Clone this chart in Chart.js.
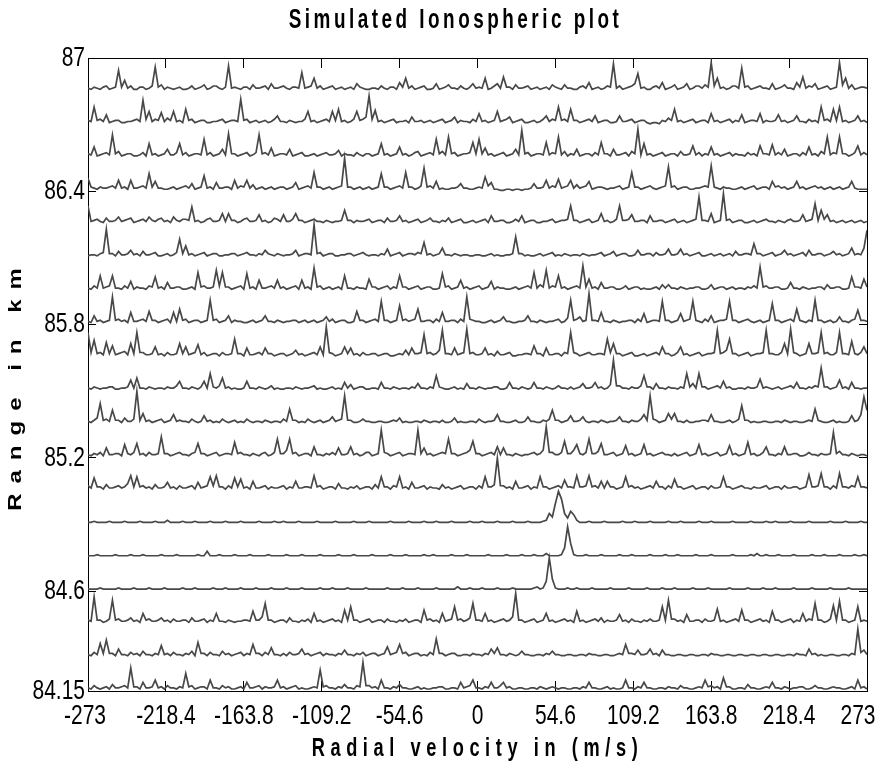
<!DOCTYPE html>
<html><head><meta charset="utf-8">
<script src="https://cdn.jsdelivr.net/npm/chart.js@4/dist/chart.umd.min.js"></script>
<style>html,body{margin:0;padding:0;background:#fff}canvas{display:block}</style>
</head><body>
<canvas id="c" width="879" height="767"></canvas>
<script>
const chartTitle = 'Simulated Ionospheric plot';
const xTitle = 'Radial velocity in (m/s)';
const yTitle = 'Range in km';
const xTicks = [-273, -218.4, -163.8, -109.2, -54.6, 0, 54.6, 109.2, 163.8, 218.4, 273];
const yTicks = [84.15, 84.6, 85.2, 85.8, 86.4, 87];
const vMin = -273, vMax = 273;
const yMin = 84.15, yMax = 87;
const ranges = [84.15, 84.30, 84.45, 84.60, 84.75, 84.90, 85.05, 85.20, 85.35, 85.50, 85.65, 85.80, 85.95, 86.10, 86.25, 86.40, 86.55, 86.70, 86.85];
const ampScale = 0.005;   // km per spectral unit
const floorOffset = 0.004;

// spectral amplitude per range gate (256 velocity bins each)
const g8685 = [
2,1,3,2,1,3,4,1,2,3,18,3,9,2,4,1, 1,3,3,1,2,4,21,3,5,1,3,2,1,2,3,1,
1,2,4,1,2,3,5,1,2,4,4,2,1,3,22,2, 3,2,1,3,3,1,5,2,2,3,4,1,6,2,2,3,
4,2,1,3,3,2,16,2,3,4,11,2,4,1,2,3, 4,1,2,3,1,2,3,1,6,3,2,1,1,2,2,1,
4,2,1,3,3,1,7,3,11,2,4,1,2,3,4,1, 1,2,6,1,2,3,5,2,2,1,4,2,1,3,6,2,
3,2,11,1,2,4,6,2,12,3,3,1,5,2,2,3, 4,1,2,3,1,2,3,1,5,3,2,1,5,2,2,1,
1,3,4,2,7,1,2,3,1,2,4,3,24,2,4,1, 2,3,4,6,15,2,3,1,1,3,4,2,7,1,2,3,
5,1,2,3,6,1,2,4,4,2,5,3,25,4,11,2, 3,1,2,4,4,2,20,3,4,1,2,3,4,2,2,1,
6,1,2,3,5,2,2,1,7,3,12,2,4,3,6,1, 2,3,4,1,2,3,25,5,11,2,5,1,2,3,3,2];
const g8670 = [
3,2,15,3,4,2,8,1,2,3,3,1,1,2,2,3, 4,2,21,4,11,2,4,3,10,2,5,3,11,2,3,1,
13,3,4,1,2,3,3,1,1,2,2,3,4,1,2,3, 3,2,22,3,4,1,2,3,1,2,3,1,2,4,7,2,
2,1,3,2,1,2,2,4,11,2,3,1,2,3,4,2, 11,3,13,2,3,1,2,4,11,3,4,6,25,4,12,2,
3,1,2,3,4,1,2,2,3,1,6,2,2,3,1,2, 3,1,2,3,4,1,2,3,6,1,3,2,2,1,4,2,
9,2,3,1,2,3,11,2,3,4,6,1,2,3,4,1, 1,2,3,1,2,4,7,2,4,3,15,3,4,2,13,3,
3,1,2,3,4,2,7,1,2,3,3,1,1,2,7,2, 2,3,4,1,2,3,3,1,0,1,1,0,3,2,5,3,
13,2,3,1,2,3,4,1,2,3,3,1,9,2,3,1, 2,3,4,1,3,2,8,1,2,3,3,2,9,1,3,2,
2,3,8,2,3,1,2,3,7,2,2,1,4,2,3,1, 15,3,4,2,13,3,15,2,3,1,2,3,7,2,3,1];
const g8655 = [
3,2,9,1,2,3,4,2,20,3,5,1,2,3,3,1, 1,2,4,1,12,2,3,1,2,3,7,2,2,4,12,2,
4,1,2,3,3,2,16,2,4,1,2,3,7,2,21,3, 3,1,2,3,4,1,2,4,20,3,4,2,8,1,2,3,
3,2,7,1,2,3,4,1,1,2,3,1,2,3,4,2, 2,3,6,1,3,2,2,1,4,2,1,3,3,1,2,3,
12,2,3,1,2,3,9,2,3,1,2,4,5,1,2,3, 4,2,16,3,5,2,18,3,4,1,2,3,3,4,13,3,
16,3,8,2,3,1,2,3,4,1,2,3,7,2,24,3, 4,1,2,3,3,2,13,2,4,3,18,2,5,1,3,2,
7,1,2,3,3,1,4,2,13,3,3,1,7,2,2,3, 4,1,5,3,25,2,12,2,3,1,2,3,4,1,2,3,
3,1,5,2,2,3,10,2,4,1,3,2,9,2,3,1, 2,3,4,1,3,2,2,1,4,2,3,1,10,3,3,2,
11,2,4,2,7,1,2,3,3,1,4,2,9,2,3,1, 5,3,18,2,4,3,18,3,3,1,2,4,10,2,4,2];
const g8640 = [
11,3,2,1,3,2,2,3,4,2,9,2,3,1,9,2, 2,3,4,2,15,3,8,2,2,1,1,2,3,1,2,3,
4,2,6,1,2,3,13,2,3,1,7,2,2,3,3,1, 9,2,4,3,9,2,5,1,2,3,1,2,3,1,2,3,
3,1,2,3,7,1,2,3,4,2,16,3,3,1,2,3, 1,2,3,4,29,3,3,1,2,3,1,2,3,1,2,3,
15,3,3,1,2,3,4,2,16,3,3,1,2,4,20,3, 4,2,8,1,2,1,1,2,2,3,6,2,2,1,1,2,
3,2,12,4,7,1,1,0,0,1,1,0,1,1,0,1, 1,2,6,2,2,3,9,2,4,3,10,2,3,4,9,2,
5,2,3,4,8,1,2,3,3,2,1,2,2,3,4,1, 2,3,16,3,3,1,2,3,4,2,1,2,3,4,21,3,
4,1,2,3,3,1,1,2,2,3,4,3,22,3,2,1, 3,2,2,1,1,2,3,1,2,3,4,1,2,3,3,1,
8,3,4,2,3,1,2,3,8,2,3,1,2,3,4,2, 3,1,2,3,1,2,3,1,2,3,8,2,1,1,1,1];
const g8625 = [
16,2,3,4,2,1,5,2,2,3,6,2,3,4,5,1, 2,3,4,2,6,3,2,4,5,2,3,1,6,3,2,4,
4,3,15,2,3,1,2,4,5,2,2,3,9,2,9,3, 3,1,2,4,5,2,2,3,8,2,3,1,2,5,4,2,
8,2,2,4,9,3,3,1,2,3,4,2,2,1,3,2, 1,2,2,3,12,3,3,1,3,2,2,3,4,1,2,3,
3,1,5,2,2,3,7,2,3,1,2,3,4,1,2,3, 5,2,2,1,3,2,5,1,2,3,4,1,1,2,3,1,
2,3,4,1,7,2,2,3,3,1,1,2,4,2,7,1, 2,3,3,1,1,2,2,3,4,1,2,3,3,4,16,3,
3,1,2,3,4,1,2,3,9,2,3,1,2,4,16,3, 3,4,8,2,2,3,3,1,7,2,2,3,3,1,2,3,
4,1,2,3,1,2,3,4,24,3,3,2,9,1,2,3, 27,3,4,1,2,3,3,1,1,2,3,1,2,3,4,2,
2,1,3,2,1,3,4,2,2,3,8,2,3,4,18,3, 12,4,8,2,3,1,2,3,1,2,3,1,2,3,1,2];
const g8610 = [
1,2,2,1,3,4,25,3,3,1,5,2,2,3,6,2, 3,1,5,2,2,3,4,1,1,2,3,1,2,4,16,3,
10,2,3,1,2,3,4,1,2,3,3,1,1,2,2,3, 3,1,2,3,4,2,2,1,3,2,6,3,2,1,3,2,
1,2,2,3,6,1,2,3,3,2,29,3,4,1,2,3, 3,1,1,2,2,3,3,1,2,3,4,2,1,2,2,1,
3,2,7,1,2,3,4,1,2,3,3,2,4,3,13,2, 3,1,2,3,8,2,2,1,3,2,1,2,2,1,1,2,
2,1,1,2,3,1,2,1,1,2,2,3,18,3,3,1, 2,1,1,2,3,1,2,3,4,1,2,1,3,2,1,2,
2,1,3,2,1,2,2,3,4,1,2,3,5,1,2,3, 3,1,1,2,6,2,2,3,3,1,4,2,2,3,7,2,
2,3,7,2,3,1,2,3,4,1,1,2,3,1,2,3, 1,2,3,1,5,2,2,3,3,2,12,3,3,1,2,3,
4,1,2,3,6,2,3,1,2,3,4,1,6,2,2,3, 3,1,2,3,5,2,3,1,2,3,8,2,3,2,8,24];
const g8595 = [
2,1,4,2,13,2,3,4,13,2,2,1,4,2,8,1, 3,2,2,1,4,3,12,2,3,1,7,2,2,3,3,1,
1,2,3,1,16,3,4,2,2,3,18,4,16,3,3,1, 2,3,4,1,15,2,3,1,9,2,2,3,4,2,9,2,
3,1,2,3,4,1,9,2,3,1,20,3,4,1,2,3, 1,2,3,1,13,2,2,1,3,2,2,1,10,3,3,1,
2,3,4,1,3,2,13,3,3,1,2,3,4,1,2,3, 3,1,1,2,15,3,4,1,2,3,9,2,3,1,2,3,
4,1,2,3,8,1,3,2,2,1,1,2,3,1,2,3, 4,2,16,2,5,3,18,2,4,3,13,2,3,1,2,3,
4,2,22,3,10,2,3,1,7,2,2,3,3,1,1,2, 4,1,2,3,3,1,2,1,1,2,3,1,5,2,5,2,
2,1,3,2,1,2,2,3,3,1,1,2,5,1,2,3, 3,1,2,3,1,2,2,1,3,2,4,2,21,3,4,2,
2,3,3,1,1,2,7,2,2,1,3,2,1,2,2,3, 3,1,5,2,2,3,3,1,1,2,12,3,3,2,10,3];
const g8580 = [
2,1,7,2,3,1,2,3,24,3,4,2,3,1,10,2, 2,3,4,2,11,3,3,1,2,3,4,1,10,2,13,3,
4,1,2,3,3,1,2,3,21,3,4,1,2,3,7,1, 3,2,2,1,1,2,3,1,2,3,7,2,2,1,3,2,
1,2,2,3,3,1,2,3,1,2,3,1,2,3,6,2, 4,1,2,3,3,1,1,2,11,3,3,1,2,3,4,2,
20,3,3,1,2,3,16,3,4,2,3,4,13,2,2,3, 3,1,4,2,10,2,2,3,3,1,4,2,24,4,3,2,
2,1,1,2,3,1,2,3,6,2,2,1,1,2,2,3, 7,2,2,1,3,2,1,2,2,3,4,1,2,5,21,3,
4,6,2,3,27,3,3,2,10,2,2,1,3,2,1,2, 2,3,3,1,4,2,9,1,2,3,3,2,20,3,3,1,
2,3,9,2,3,4,20,3,2,1,4,2,7,1,2,3, 3,4,20,3,3,1,2,3,4,2,1,2,3,1,2,3,
18,3,3,1,2,3,4,2,13,3,2,1,3,2,21,3, 3,1,2,3,1,2,6,2,2,1,3,4,12,3,3,2];
const g8565 = [
22,4,15,3,4,2,13,3,10,2,3,4,5,2,12,3, 22,4,4,2,2,3,9,2,3,1,4,2,2,3,12,3,
9,2,3,4,11,2,4,1,2,3,3,1,4,2,2,3, 16,3,3,1,8,2,2,3,4,2,8,3,3,1,2,3,
3,1,2,3,6,2,3,1,2,3,4,2,9,2,27,4, 3,1,2,3,9,3,8,2,3,1,4,2,2,3,3,1,
2,3,3,1,1,2,3,2,6,2,8,3,3,4,20,3, 4,2,3,6,24,3,3,2,8,2,3,4,25,3,4,2,
2,3,8,2,3,1,5,2,2,3,4,1,1,2,2,3, 3,2,10,3,3,1,8,2,2,3,3,1,4,3,22,4,
3,1,2,3,4,2,2,3,3,2,16,4,12,3,3,1, 2,3,4,1,1,2,3,1,2,3,4,2,9,3,3,1,
2,4,9,2,3,1,2,3,4,1,2,3,3,4,24,3, 4,6,16,3,3,1,2,3,4,1,2,3,3,4,24,3,
3,2,2,4,12,3,25,4,3,1,2,3,12,3,3,4, 22,3,4,2,2,4,22,3,3,2,14,3,2,4,9,3];
const g8550 = [
2,1,3,2,1,2,2,3,3,1,1,2,2,3,9,2, 11,2,2,1,3,2,1,2,2,1,3,2,2,4,8,2,
2,1,3,2,1,3,8,2,15,3,2,4,11,2,3,1, 2,1,1,2,8,2,2,1,3,2,1,2,4,1,2,1,
1,2,2,1,3,2,1,2,2,3,4,1,2,1,1,2, 3,1,2,1,7,2,5,1,2,3,3,1,1,2,2,1,
7,2,2,1,3,2,1,2,2,1,3,2,6,2,2,1, 3,2,13,3,2,1,1,2,3,1,2,1,6,2,2,1,
3,2,1,2,2,3,3,1,1,2,7,2,2,1,3,2, 1,2,7,2,2,1,3,2,1,2,4,2,2,1,3,1,
2,3,6,2,2,3,7,2,3,1,2,5,27,4,4,2, 2,1,3,2,2,4,13,3,3,1,6,2,2,1,3,2,
2,1,3,2,15,3,6,2,15,3,3,1,2,3,4,2, 8,2,3,1,1,2,2,1,3,2,2,3,10,2,3,2,
1,2,3,1,2,3,4,2,7,2,2,1,3,2,4,3, 20,3,3,1,2,3,9,2,3,1,7,2,2,1,2,2];
const g8535 = [
2,1,3,5,18,3,4,2,12,3,3,1,5,2,2,4, 29,3,9,2,3,1,2,3,4,1,2,3,8,2,3,2,
2,1,4,2,1,2,7,2,3,1,2,1,4,2,1,2, 3,1,2,1,4,2,1,2,2,1,3,2,1,2,2,1,
4,2,13,3,3,1,2,1,4,2,1,2,3,1,2,3, 6,2,3,4,25,3,3,1,1,2,4,2,2,1,1,2,
2,1,1,2,3,2,5,1,2,1,1,2,2,1,3,2, 1,2,2,1,3,1,1,2,5,1,2,1,1,2,2,1,
4,2,1,2,2,3,8,2,2,1,1,2,3,1,1,2, 6,2,2,1,1,3,2,4,12,3,3,1,2,3,7,2,
2,3,6,2,1,2,2,1,3,2,1,2,2,3,6,2, 2,1,3,2,2,4,8,3,25,4,3,1,2,3,9,4,
9,2,2,1,3,1,1,2,2,3,3,2,8,2,2,1, 1,2,3,1,2,4,16,3,3,1,2,1,1,2,2,1,
1,2,2,1,3,2,1,2,2,1,1,2,3,2,13,3, 2,1,1,2,3,1,2,1,1,2,7,2,3,8,24,12];
const g8520 = [
2,1,3,2,4,1,8,2,2,3,3,1,11,3,2,4, 12,2,3,1,4,2,2,3,18,3,3,1,2,3,4,2,
2,1,3,4,12,3,3,1,2,3,4,1,2,3,3,2, 13,3,4,2,2,1,3,2,1,3,4,1,2,4,16,3,
3,6,16,3,4,1,2,3,3,1,9,2,2,1,3,2, 4,2,8,2,2,3,9,2,3,1,2,4,4,1,2,3,
24,4,3,1,2,3,4,1,2,3,3,2,24,3,8,2, 3,1,2,3,4,3,16,3,3,1,2,3,4,6,14,3,
3,1,2,3,4,2,9,2,8,2,2,1,3,2,1,2, 2,3,4,2,3,6,27,4,4,2,2,4,14,3,3,6,
11,3,2,4,16,3,3,5,12,2,2,3,4,1,2,3, 10,2,3,1,2,3,11,2,3,1,2,3,4,2,2,1,
3,1,2,3,4,1,2,3,11,2,3,1,2,3,4,1, 2,3,10,2,3,1,2,3,13,2,3,1,2,4,9,2,
2,1,3,2,9,2,2,3,3,1,1,2,4,2,2,1, 3,2,2,3,22,3,5,2,2,1,3,2,1,2,2,1];
const g8505 = [
4,2,11,3,3,1,5,2,2,3,4,2,3,6,13,3, 12,3,4,2,3,1,5,2,2,3,7,2,3,1,4,2,
2,3,4,1,7,2,3,4,12,4,13,3,3,1,4,2, 11,3,10,2,3,1,8,2,2,3,4,1,3,2,2,3,
4,1,3,2,8,2,2,3,3,2,13,3,4,1,2,3, 3,1,6,2,2,1,3,2,4,1,2,3,3,1,5,2,
12,3,3,1,4,3,12,2,3,1,7,2,2,3,4,1, 3,2,2,1,5,2,3,1,2,3,4,1,2,3,3,1,
4,2,12,3,3,5,29,4,4,2,3,1,8,2,2,3, 4,1,3,2,12,3,3,1,2,3,4,2,9,3,3,2,
13,3,3,4,13,3,4,2,8,2,8,3,3,1,2,3, 12,3,4,2,3,1,2,3,4,2,8,3,3,1,4,2,
10,3,3,1,2,3,4,1,2,3,3,1,4,2,2,3, 12,3,3,1,2,3,4,2,2,1,3,2,2,3,4,1,
2,3,3,1,4,2,2,3,3,1,2,3,14,3,3,4, 15,3,3,1,4,2,15,3,3,2,4,3,12,3,3,2];
const g8490 = [
1,1,2,1,1,1,1,2,1,1,1,1,2,1,1,1, 1,2,1,1,1,1,2,1,1,1,3,1,1,1,1,2,
1,1,1,2,1,1,1,1,2,1,1,1,1,2,1,1, 1,1,2,1,1,1,1,1,2,1,1,1,1,2,1,1,
2,1,1,1,1,2,1,1,1,1,1,2,1,1,1,1, 1,2,1,1,1,1,1,2,1,1,1,1,2,1,1,1,
1,1,1,2,1,1,1,1,1,2,1,1,1,1,2,1, 1,1,2,1,1,1,1,2,1,1,1,1,1,2,1,1,
1,2,1,1,1,1,2,1,1,1,1,2,1,1,1,1, 2,1,1,1,1,2,3,9,6,18,29,22,9,5,11,8,
3,1,1,1,2,1,1,1,1,2,1,1,1,1,1,2, 1,1,1,2,1,1,1,1,2,1,1,1,1,1,2,1,
1,1,2,1,1,1,1,1,2,1,1,1,2,1,1,1, 1,1,1,2,1,1,1,1,1,2,1,1,1,1,2,1,
1,2,1,1,1,1,2,1,1,1,1,1,2,1,1,1, 1,1,1,2,1,1,1,1,2,1,1,1,1,2,1,1];
const g8475 = [
1,1,1,2,1,1,1,1,1,2,1,1,1,1,2,1, 1,1,2,1,1,1,1,1,2,1,1,1,1,2,1,1,
1,1,1,1,2,1,1,5,1,1,1,2,1,1,1,1, 2,1,1,1,1,2,1,1,1,1,1,2,1,1,1,1,
1,2,1,1,1,1,2,1,1,1,1,1,2,1,1,1, 1,1,2,1,1,1,1,2,1,1,1,1,1,2,1,1,
1,1,1,2,1,1,1,1,2,1,1,1,1,1,2,1, 1,2,1,1,1,1,1,2,1,1,1,1,2,1,1,1,
1,1,1,2,1,1,1,1,1,2,1,1,1,1,2,1, 1,1,2,1,1,1,3,1,1,1,1,2,8,27,12,2,
1,1,1,2,1,1,1,1,2,1,1,1,1,1,2,1, 1,1,2,1,1,1,1,1,2,1,1,1,1,2,1,1,
1,2,1,1,1,1,1,2,1,1,1,1,2,1,1,1, 1,1,1,2,1,1,1,1,1,2,1,3,1,1,2,1,
1,1,2,1,1,1,1,2,1,1,1,1,1,2,1,1, 1,2,1,1,1,1,2,1,1,1,1,2,1,1,2,1];
const g8460 = [
1,1,1,1,2,1,1,1,1,1,2,1,1,1,1,2, 1,1,1,1,2,1,1,1,1,2,1,1,1,1,1,2,
1,1,1,2,1,1,1,1,1,2,1,1,1,2,1,1, 1,1,2,1,1,1,1,2,1,1,1,1,2,1,1,1,
1,2,1,1,1,1,2,1,1,1,1,1,2,1,1,1, 2,1,1,1,1,2,1,1,1,1,1,2,1,1,1,1,
1,1,2,1,1,1,1,2,1,1,1,1,2,1,1,1, 1,1,2,1,1,1,1,1,1,3,1,1,1,2,1,1,
1,2,1,1,1,1,2,1,1,1,1,2,1,1,1,1, 1,1,2,3,1,2,8,29,10,2,1,1,1,2,1,1,
2,1,1,1,1,2,1,1,1,1,1,2,1,1,1,1, 1,2,1,1,1,1,1,2,1,1,1,1,2,1,1,1,
2,1,1,1,1,1,2,1,1,1,1,2,1,1,1,1, 1,1,2,1,1,1,1,1,2,1,1,1,1,2,1,1,
1,2,1,1,1,1,1,2,1,1,1,1,1,2,1,1, 1,1,1,2,1,1,1,1,1,2,1,1,1,1,1,1];
const g8445 = [
3,2,24,3,3,1,2,4,21,3,4,2,2,3,5,2, 3,1,9,3,4,2,2,3,5,2,3,1,4,2,2,3,
3,1,5,2,2,3,4,1,3,2,9,2,2,1,3,2, 1,2,2,3,3,2,11,3,3,6,18,3,3,1,2,3,
3,1,5,2,2,1,3,2,4,1,9,2,3,1,2,3, 4,2,3,1,12,3,15,3,3,1,2,3,4,1,2,3,
3,1,4,2,2,1,3,2,4,1,2,3,3,1,12,3, 4,2,3,1,9,2,3,4,15,3,4,2,3,5,18,3,
3,2,9,2,3,1,2,3,4,2,3,6,27,3,3,1, 2,3,4,1,2,3,9,2,3,1,2,3,4,2,3,1,
11,2,3,1,2,3,4,2,5,1,3,2,2,3,8,2, 3,1,4,2,2,1,3,2,4,2,2,3,15,3,21,4,
4,2,3,1,8,2,2,3,3,1,4,2,2,3,13,2, 3,1,2,3,4,2,12,3,3,1,2,3,4,2,3,1,
11,3,3,1,2,3,4,1,3,2,9,2,4,3,18,3, 3,1,2,4,16,3,20,3,3,1,2,3,15,2,3,2];
const g8430 = [
2,1,4,2,12,3,15,3,3,1,7,2,2,1,4,2, 3,1,5,2,2,1,3,2,10,2,3,1,4,2,2,1,
3,2,5,1,13,3,3,1,4,2,2,1,5,2,3,1, 2,3,4,1,3,2,11,3,3,1,4,2,8,2,2,1,
3,1,4,2,2,3,7,2,3,1,2,3,4,1,3,2, 2,1,3,2,6,2,2,1,3,2,4,1,2,3,3,1,
2,3,9,2,3,4,11,3,4,1,2,3,3,1,2,1, 4,2,16,3,3,1,2,3,3,1,1,2,2,1,3,2,
2,1,3,2,7,3,8,2,2,1,3,2,1,2,5,2, 2,1,1,2,2,1,3,2,5,2,2,1,1,2,2,1,
1,2,2,1,3,2,2,1,1,2,2,1,1,2,3,2, 11,3,3,2,6,2,2,3,7,2,3,1,6,2,2,1,
1,2,2,1,1,2,2,1,1,2,2,1,3,2,2,1, 1,2,2,1,1,2,2,1,1,2,2,1,1,2,2,1,
1,2,2,1,1,2,2,1,3,2,2,1,7,2,3,1, 2,1,1,2,2,1,1,2,2,1,3,2,25,4,6,2];
const g8415 = [
2,1,4,2,1,2,3,1,5,2,2,3,4,2,20,3, 3,1,7,2,2,3,9,2,3,1,4,2,2,1,3,2,
15,3,4,1,2,3,3,1,9,2,2,1,4,2,3,1, 1,2,3,1,7,2,2,3,4,1,3,2,2,3,9,2,
3,1,2,3,4,1,2,1,1,2,3,2,18,3,4,2, 2,1,3,2,5,2,2,1,4,3,25,4,4,2,3,1,
9,2,2,1,3,2,5,2,2,1,1,2,3,1,2,1, 1,2,2,3,3,1,1,2,2,1,7,2,3,4,9,2,
2,1,3,2,7,2,2,4,7,2,3,1,1,2,2,1, 1,2,2,1,3,2,1,2,3,2,1,2,2,1,1,2,
2,1,3,2,7,2,2,1,1,2,3,1,2,1,1,2, 9,2,2,1,3,2,7,2,2,1,1,2,2,1,3,2,
2,1,4,2,2,1,1,2,3,2,9,3,4,2,3,1, 11,3,3,1,1,2,2,1,5,2,2,1,1,2,3,2,
7,2,2,1,3,2,1,2,2,3,3,1,1,2,4,2, 2,1,1,2,3,2,2,1,1,2,3,1,9,2,3,1];

const spectra = [g8415, g8430, g8445, g8460, g8475, g8490, g8505, g8520, g8535, g8550, g8565, g8580, g8595, g8610, g8625, g8640, g8655, g8670, g8685];
const velocityBins = 256;
const velocities = Array.from({length: velocityBins}, (_, i) => vMin + i * (vMax - vMin) / (velocityBins - 1));

// text look: letters squeezed horizontally (as in the reference), titles letter-spaced
const baseFont = "'Liberation Sans', Arial, Helvetica, sans-serif";
const TICK_LOOK = {sx: 0.75, ls: 0, dx: 0};
const TEXT_LOOK = {};
TEXT_LOOK[chartTitle] = {sx: 0.7, ls: 5, dx: 22};
TEXT_LOOK[xTitle] = {sx: 0.7, ls: 8, dx: 0};
TEXT_LOOK[yTitle] = {sx: 0.75, ls: 10, dx: 0, dy: 10};
TEXT_LOOK['273'] = {sx: 0.75, ls: 0, dx: -9};
TEXT_LOOK['-273'] = {sx: 0.75, ls: 0, dx: -3};

const canvas = document.getElementById('c');
const ctx = canvas.getContext('2d');
const nativeFill = CanvasRenderingContext2D.prototype.fillText;
ctx.fillText = function (text, x, y) {
  const st = TEXT_LOOK[text] || TICK_LOOK;
  const m = this.getTransform();
  const p = m.transformPoint(new DOMPoint(x, y));
  const t = new DOMMatrix().translate(p.x + (st.dx || 0), p.y + (st.dy || 0)).scale(st.sx, 1).translate(-p.x, -p.y).multiply(m);
  const prevLs = this.letterSpacing;
  this.setTransform(t);
  if (st.ls) this.letterSpacing = st.ls + 'px';
  nativeFill.call(this, text, x, y);
  if (st.ls) this.letterSpacing = prevLs;
  this.setTransform(m);
};

const datasets = ranges.map((r, k) => ({
  label: r.toFixed(2) + ' km',
  data: spectra[k].map((a, i) => ({x: velocities[i], y: r + floorOffset + a * ampScale})),
  borderColor: '#484848',
  borderWidth: 1.7,
  borderJoinStyle: 'miter',
  pointRadius: 0,
  fill: false,
  tension: 0
}));

const tickFont = {family: baseFont, size: 28, lineHeight: 1};
const titleFont = {family: baseFont, size: 27, weight: 'bold', lineHeight: 1};
const axisTitleFont = {family: baseFont, size: 26, weight: 'bold', lineHeight: 1};

const noSidePadding = s => { s.paddingLeft = 0; s.paddingRight = 0; };

new Chart(ctx, {
  type: 'line',
  data: {datasets},
  options: {
    responsive: false,
    animation: false,
    parsing: false,
    layout: {padding: {left: 0, right: 12, top: 0, bottom: 0}},
    plugins: {
      legend: {display: false},
      tooltip: {enabled: false},
      title: {display: true, text: chartTitle, color: '#000', font: titleFont, padding: {top: 7, bottom: 24}}
    },
    scales: {
      x: {
        type: 'linear', position: 'bottom', min: vMin, max: vMax,
        afterBuildTicks: s => { s.ticks = xTicks.map(v => ({value: v})); },
        afterFit: s => { s.height = 76; noSidePadding(s); },
        ticks: {callback: v => String(v), color: '#000', font: tickFont, padding: 21, maxRotation: 0, minRotation: 0, autoSkip: false},
        grid: {drawOnChartArea: false, drawTicks: true, tickLength: -10, color: '#000', lineWidth: 1},
        border: {display: true, color: '#000', width: 1},
        title: {display: true, text: xTitle, color: '#000', font: axisTitleFont, padding: {top: 0, bottom: 5}}
      },
      x2: {
        type: 'linear', position: 'top', min: vMin, max: vMax,
        afterBuildTicks: s => { s.ticks = xTicks.map(v => ({value: v})); },
        afterFit: s => { s.height = 0; noSidePadding(s); },
        ticks: {display: false},
        grid: {drawOnChartArea: false, drawTicks: true, tickLength: -10, color: '#000', lineWidth: 1},
        border: {display: true, color: '#000', width: 1}
      },
      y: {
        type: 'linear', position: 'left', min: yMin, max: yMax,
        afterBuildTicks: s => { s.ticks = yTicks.map(v => ({value: v})); },
        afterFit: s => { s.width = 88; },
        ticks: {callback: v => String(v), color: '#000', font: tickFont, padding: 11, autoSkip: false},
        grid: {drawOnChartArea: false, drawTicks: true, tickLength: -8, color: '#000', lineWidth: 1},
        border: {display: true, color: '#000', width: 1},
        title: {display: true, text: yTitle, color: '#000', font: {family: baseFont, size: 24, weight: 'bold', lineHeight: 1}, padding: {top: 4, bottom: 0}}
      },
      y2: {
        type: 'linear', position: 'right', min: yMin, max: yMax,
        afterBuildTicks: s => { s.ticks = yTicks.map(v => ({value: v})); },
        afterFit: s => { s.width = 0; },
        ticks: {display: false},
        grid: {drawOnChartArea: false, drawTicks: true, tickLength: -8, color: '#000', lineWidth: 1},
        border: {display: true, color: '#000', width: 1}
      }
    }
  }
});
</script>
</body></html>
